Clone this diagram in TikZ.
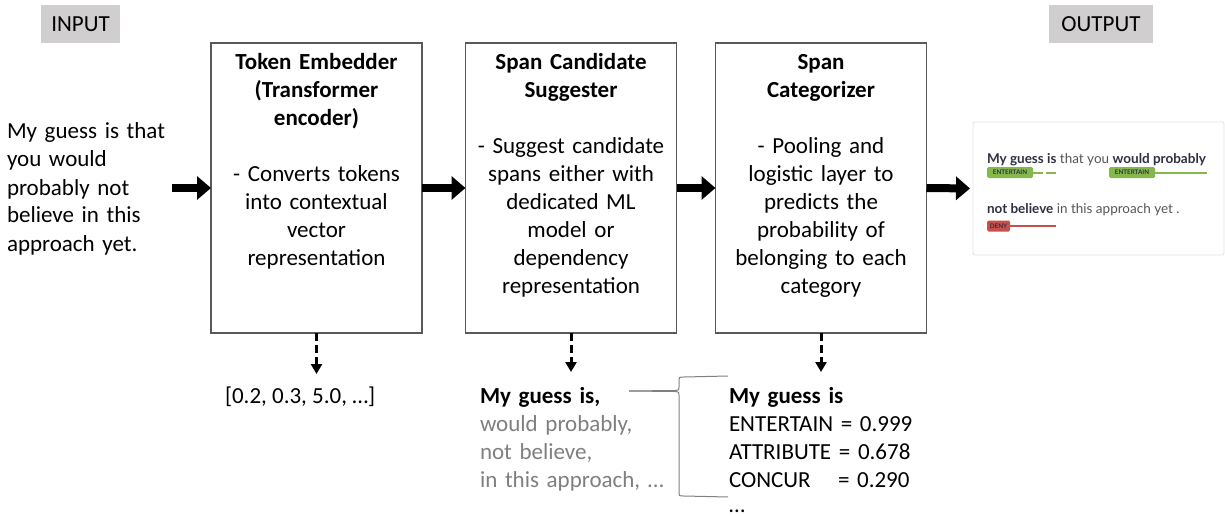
\documentclass[tikz,border=0pt]{standalone}
\usepackage{fontspec}
\setmainfont{Carlito}
\newfontfamily\outfont{Lato}
\usetikzlibrary{arrows.meta}
\definecolor{boxline}{HTML}{595959}
\definecolor{tagfill}{HTML}{D0CECE}
\definecolor{candgray}{HTML}{7F7F7F}
\definecolor{entgreen}{HTML}{84B84C}
\definecolor{denyred}{HTML}{C5504C}
\definecolor{outdark}{HTML}{2E3040}
\definecolor{outgray}{HTML}{555555}
\definecolor{panelline}{HTML}{E2E2E2}
\definecolor{bracegray}{HTML}{808080}
\begin{document}
\begin{tikzpicture}[x=1pt,y=-1pt,
  every node/.style={inner sep=0pt, outer sep=0pt},
  mainfont/.style={font=\fontsize{23}{28}\selectfont},
  tagbox/.style={fill=tagfill, minimum height=38pt, mainfont},
  procbox/.style={draw=boxline, line width=1.3pt, minimum width=211pt, minimum height=290pt},
  proctext/.style={anchor=north, text width=205pt, align=center, mainfont},
  lefttext/.style={anchor=north west, text width=240pt, align=left, mainfont},
  bigarrow/.style={line width=8pt, -{Triangle[length=14pt,width=23pt]}},
  dasharrow/.style={line width=3pt, dash pattern=on 8pt off 4pt, -{Triangle[length=10pt,width=11pt]}},
  outtext/.style={anchor=base west, font=\outfont\fontsize{13.5}{16}\selectfont, text=outgray},
  spantag/.style={rounded corners=1.5pt, minimum height=11pt, font=\outfont\bfseries\fontsize{6.3}{7}\selectfont, text=outdark},
  entline/.style={draw=entgreen, line width=2pt},
  denyline/.style={draw=denyred, line width=2pt},
  bracestyle/.style={draw=bracegray, line width=1pt}
]
\useasboundingbox (0,0) rectangle (1225,516);

% tags
\node[tagbox, minimum width=79pt] (inlabel) at (80.5,24) {INPUT};
\node[tagbox, minimum width=104pt] (outlabel) at (1101,24) {OUTPUT};

% input sentence
\node[lefttext, text width=170pt] (inp) at (7,119.4) {\strut My guess is that\\ you would\\ probably not\\ believe in this\\ approach yet.};

% process boxes
\node[procbox] (b1) at (316.5,188) {};
\node[procbox] (b2) at (571,188) {};
\node[procbox] (b3) at (821,188) {};

\node[proctext] (t1) at (316.5,50.4) {\strut\textbf{Token Embedder}\\ \textbf{(Transformer}\\ \textbf{encoder)}\\ ~\\ - Converts tokens\\ into contextual\\ vector\\ representation};
\node[proctext] (t2) at (571,50.4) {\strut\textbf{Span Candidate}\\ \textbf{Suggester}\\ ~\\ - Suggest candidate\\ spans either with\\ dedicated ML\\ model or\\ dependency\\ representation};
\node[proctext] (t3) at (821,50.4) {\strut\textbf{Span}\\ \textbf{Categorizer}\\ ~\\ - Pooling and\\ logistic layer to\\ predicts the\\ probability of\\ belonging to each\\ category};

% output panel
\node[draw=panelline, line width=0.8pt, rounded corners=2pt, minimum width=251pt, minimum height=133pt] (outp) at (1098.5,188.5) {};

% main arrows
\coordinate (a0) at (172,188);
\draw[bigarrow] (a0) -- (b1.west);
\draw[bigarrow] (b1.east) -- (b2.west);
\draw[bigarrow] (b2.east) -- (b3.west);
\draw[bigarrow, shorten >=3pt] (b3.east) -- (outp.west);

% dashed arrows
\coordinate (d1) at (316.5,374);
\coordinate (d2) at (571,372);
\coordinate (d3) at (821,372);
\draw[dasharrow] (b1.south) -- (d1);
\draw[dasharrow] (b2.south) -- (d2);
\draw[dasharrow] (b3.south) -- (d3);

% bottom texts
\node[anchor=base west, mainfont] (vec) at (225,403) {[0.2, 0.3, 5.0, …]};
\node[lefttext] (cand) at (480,383.4) {\strut\textbf{My guess is,}\\ \textcolor{candgray}{would probably,}\\ \textcolor{candgray}{not believe,}\\ \textcolor{candgray}{in this approach, …}};
\node[lefttext] (scores) at (729,383.4) {\strut\textbf{My guess is}\\ ENTERTAIN = 0.999\\ ATTRIBUTE = 0.678\\ \makebox[109pt][l]{CONCUR}= 0.290\\[-3pt] …};

% brace
\coordinate (bt) at (728,376);
\coordinate (bb) at (728,497);
\coordinate (btip) at (629,391);
\draw[bracestyle] (bt) -- (684,377) .. controls (679,377) .. (679,382) -- (679,387) .. controls (679,390) .. (675,390.5) -- (btip);
\draw[bracestyle] (btip) -- (675,391.5) .. controls (679,392) .. (679,395) -- (679,492) .. controls (679,496) .. (684,496) -- (bb);

% output panel contents
\node[outtext] (o1) at (987,163) {\textcolor{outdark}{\bfseries My guess is} that you \textcolor{outdark}{\bfseries would probably}};
\node[outtext] (o2) at (987,213) {\textcolor{outdark}{\bfseries not believe} in this approach yet .};

\node[spantag, fill=entgreen, minimum width=46pt] (e1) at (1010,172.5) {ENTERTAIN};
\coordinate (e1a) at (1043,172.5);
\coordinate (e1b) at (1046,172.5);
\coordinate (e1c) at (1056,172.5);
\draw[entline] (e1.east) -- (e1a);
\draw[entline] (e1b) -- (e1c);

\node[spantag, fill=entgreen, minimum width=46pt] (e2) at (1132,172.5) {ENTERTAIN};
\coordinate (e2a) at (1207,172.5);
\draw[entline] (e2.east) -- (e2a);

\node[spantag, fill=denyred, minimum width=23pt] (dn) at (998.5,226) {DENY};
\coordinate (dna) at (1056,226);
\draw[denyline] (dn.east) -- (dna);
\end{tikzpicture}
\end{document}
